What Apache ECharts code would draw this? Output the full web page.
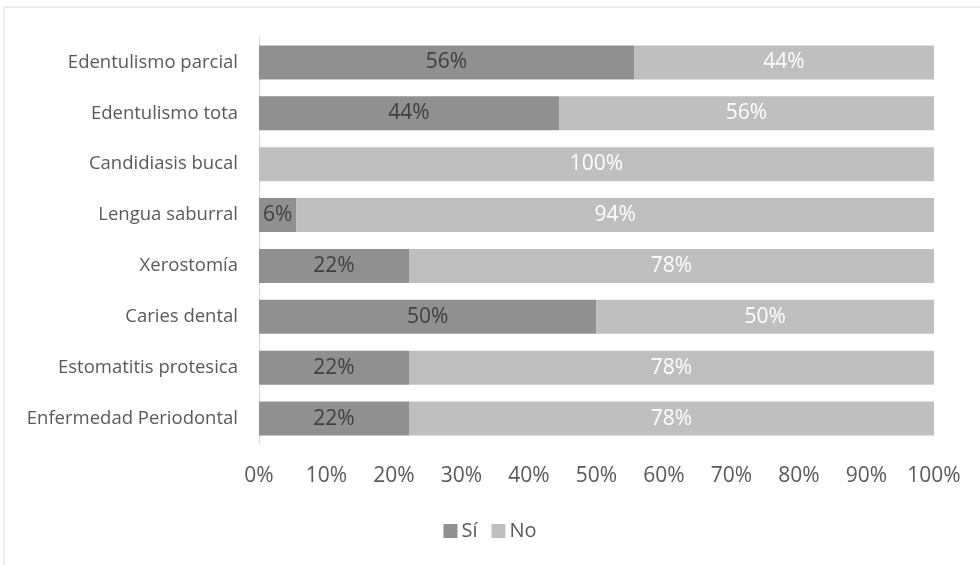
<!DOCTYPE html>
<html>
<head>
<meta charset="utf-8">
<script src="https://cdn.jsdelivr.net/npm/echarts@6/dist/echarts.min.js"></script>
<style>
html,body{margin:0;padding:0;background:#fff;}
#chart{width:980px;height:565px;}
</style>
</head>
<body>
<div id="chart"></div>
<script>
// Categories listed bottom to top (category axis on y starts at bottom)
const categories = ['Enfermedad Periodontal','Estomatitis protesica','Caries dental','Xerostomía','Lengua saburral','Candidiasis bucal','Edentulismo tota','Edentulismo parcial'];
const siValues = [22.22, 22.22, 50.00, 22.22, 5.56, 0, 44.44, 55.56];
const noValues = [77.78, 77.78, 50.00, 77.78, 94.44, 100, 55.56, 44.44];
const xTicks = [0,10,20,30,40,50,60,70,80,90,100];
const seriesNames = ['Sí','No'];

const FONT = 'Open Sans';
const chart = echarts.init(document.getElementById('chart'), null, {renderer:'canvas'});
const fmt = p => p.value > 0 ? Math.round(p.value) + '%' : '';
chart.setOption({
  backgroundColor:'#ffffff',
  animation:false,
  graphic:[{
    type:'rect', shape:{x:4,y:7,width:990,height:600},
    style:{fill:'none',stroke:'#d9d9d9',lineWidth:1}, silent:true, z:-10
  }],
  grid:{left:259,right:46,top:37,height:407,containLabel:false},
  legend:{
    data:seriesNames, top:516, left:'center',
    itemWidth:14,itemHeight:14,itemGap:14,
    icon:'rect',
    textStyle:{color:'#595959',fontSize:20,fontFamily:FONT,padding:[0,0,0,-1]}
  },
  xAxis:{
    type:'value',min:0,max:100,interval:10,
    axisLabel:{formatter:v=>v+'%',color:'#595959',fontSize:21,fontFamily:FONT,margin:22},
    axisLine:{show:false},axisTick:{show:false},splitLine:{show:false}
  },
  yAxis:{
    type:'category',data:categories,
    axisLine:{show:true,lineStyle:{color:'#d9d9d9',width:1}},
    axisTick:{show:false},
    axisLabel:{color:'#595959',fontSize:18.5,fontFamily:FONT,margin:21}
  },
  series:[
    {name:seriesNames[0],type:'bar',stack:'t',data:siValues,barCategoryGap:'33%',
     itemStyle:{color:'#909090'},
     label:{show:true,position:'inside',formatter:fmt,color:'#404040',fontSize:21,fontFamily:FONT}},
    {name:seriesNames[1],type:'bar',stack:'t',data:noValues,barCategoryGap:'33%',
     itemStyle:{color:'#bfbfbf'},
     label:{show:true,position:'inside',formatter:fmt,color:'#ffffff',fontSize:21,fontFamily:FONT}}
  ]
});
</script>
</body>
</html>
